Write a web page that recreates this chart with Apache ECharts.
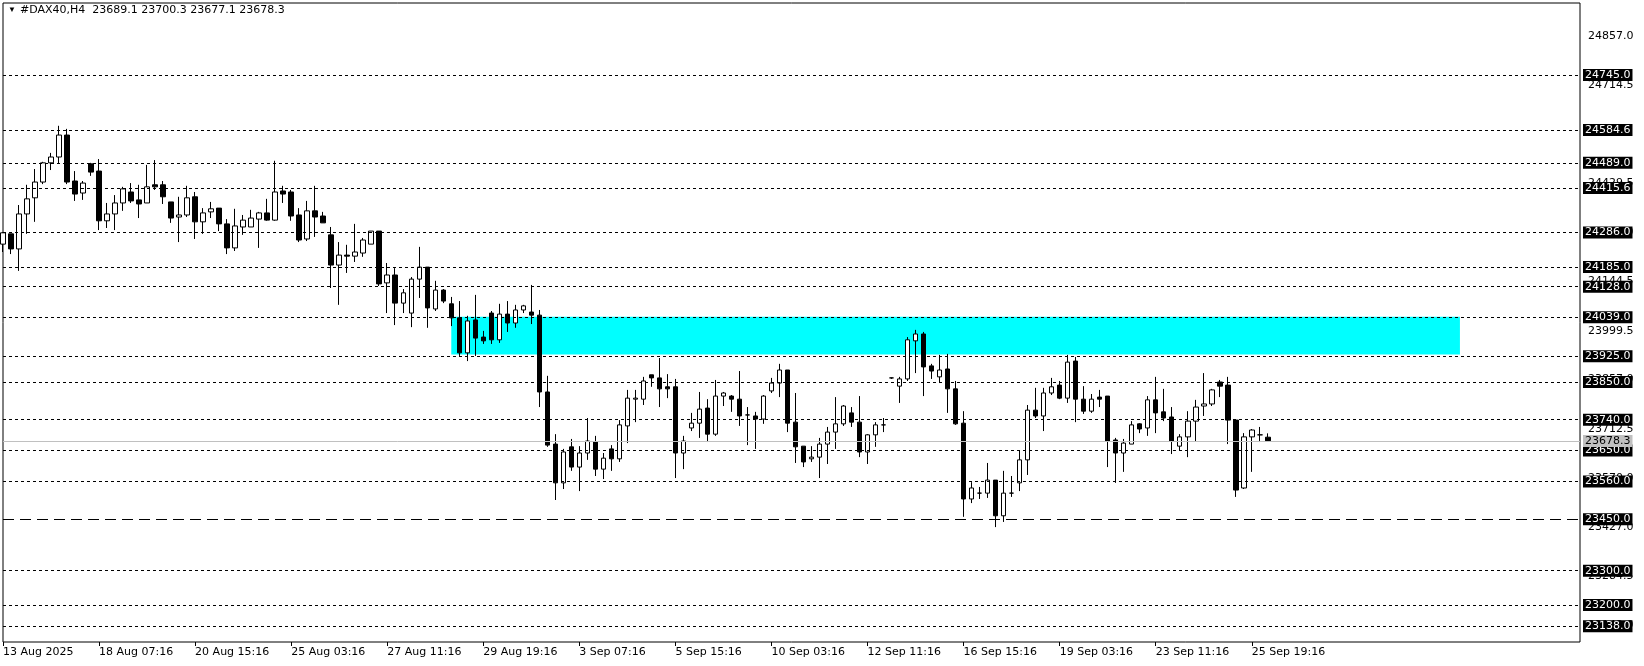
<!DOCTYPE html>
<html><head><meta charset="utf-8">
<script src="https://cdn.jsdelivr.net/npm/echarts@6/dist/echarts.min.js"></script>
<style>html,body{margin:0;padding:0;background:#fff}#c{width:1644px;height:666px}</style>
</head><body><div id="c"></div>
<script>
// candles: [open, close, low, high]
const candles = [
[24252,24285,24229,24287],[24282,24238,24223,24282],[24238,24340,24174,24366],[24340,24384,24282,24425],
[24387,24433,24317,24471],[24433,24489,24427,24492],[24489,24506,24468,24518],[24506,24570,24486,24597],
[24570,24433,24427,24588],[24436,24398,24378,24465],[24401,24430,24381,24436],[24486,24462,24451,24489],
[24465,24320,24293,24500],[24320,24340,24299,24372],[24340,24372,24293,24395],[24372,24413,24349,24419],
[24404,24378,24372,24430],[24381,24369,24328,24425],[24372,24419,24372,24483],[24425,24419,24410,24497],
[24425,24390,24369,24436],[24375,24328,24314,24375],[24331,24337,24258,24390],[24337,24387,24331,24422],
[24390,24317,24267,24404],[24317,24343,24282,24357],[24346,24355,24328,24375],[24357,24311,24290,24357],
[24311,24241,24223,24325],[24241,24305,24232,24355],[24302,24322,24279,24337],[24302,24328,24302,24352],
[24325,24343,24241,24346],[24343,24322,24320,24384],[24322,24404,24320,24495],[24407,24398,24372,24422],
[24404,24334,24320,24410],[24337,24264,24258,24357],[24267,24349,24261,24378],[24349,24331,24273,24422],
[24334,24314,24314,24346],[24279,24191,24124,24302],[24191,24220,24075,24258],[24220,24217,24168,24250],
[24217,24229,24200,24311],[24226,24264,24215,24270],[24252,24290,24252,24290],[24290,24136,24130,24290],
[24139,24162,24051,24197],[24162,24080,24016,24182],[24080,24110,24051,24121],[24051,24150,24010,24156],
[24150,24185,24095,24244],[24185,24066,24008,24185],[24063,24118,24057,24145],[24118,24086,24080,24121],
[24078,24037,24013,24098],[24037,23935,23926,24086],[23935,24028,23911,24043],[24031,23978,23926,24104],
[23981,23970,23961,23999],[24051,23973,23961,24057],[23973,24048,23964,24078],[24048,24022,23996,24086],
[24022,24060,24008,24075],[24060,24072,24051,24075],[24054,24045,24019,24133],[24045,23821,23777,24060],
[23821,23666,23661,23868],[23669,23556,23506,23698],[23556,23646,23538,23655],[23661,23602,23591,23684],
[23602,23643,23532,23663],[23643,23678,23623,23745],[23675,23596,23576,23693],[23596,23628,23567,23643],
[23655,23626,23591,23666],[23626,23725,23617,23739],[23722,23803,23672,23827],[23800,23803,23733,23827],
[23800,23853,23783,23865],[23871,23862,23836,23871],[23862,23830,23777,23920],[23836,23830,23803,23873],
[23836,23643,23570,23859],[23643,23678,23596,23693],[23716,23730,23707,23760],[23730,23771,23687,23821],
[23774,23698,23675,23800],[23698,23809,23693,23856],[23809,23818,23780,23821],[23809,23800,23763,23812],
[23800,23751,23722,23882],[23754,23754,23666,23777],[23751,23742,23655,23763],[23742,23809,23728,23812],
[23824,23847,23818,23862],[23847,23885,23806,23903],[23885,23730,23704,23885],[23733,23661,23614,23818],
[23663,23617,23602,23663],[23626,23631,23617,23663],[23631,23669,23570,23687],[23669,23704,23611,23719],
[23704,23728,23655,23806],[23728,23780,23722,23783],[23760,23733,23719,23777],[23733,23646,23631,23809],
[23646,23696,23611,23698],[23696,23725,23661,23733],[23725,23725,23704,23745],[23862,23862,23859,23863],
[23838,23859,23789,23865],[23859,23973,23853,23981],[23970,23990,23876,24002],[23990,23894,23809,23996],
[23897,23882,23859,23903],[23865,23885,23847,23929],[23888,23830,23760,23932],[23830,23728,23725,23853],
[23730,23509,23457,23765],[23509,23541,23497,23558],[23526,23526,23509,23544],[23526,23564,23512,23614],
[23564,23460,23427,23564],[23460,23526,23442,23591],[23526,23526,23515,23576],[23556,23623,23532,23649],
[23623,23768,23579,23783],[23768,23751,23745,23833],[23751,23818,23707,23833],[23818,23836,23812,23862],
[23841,23803,23800,23853],[23803,23908,23789,23929],[23911,23800,23733,23923],[23800,23765,23757,23838],
[23765,23800,23760,23815],[23806,23800,23777,23827],[23809,23678,23602,23809],[23681,23643,23556,23687],
[23643,23672,23588,23684],[23669,23725,23669,23736],[23728,23713,23701,23730],[23716,23798,23693,23809],
[23798,23760,23701,23865],[23763,23745,23736,23830],[23748,23678,23640,23777],[23663,23690,23649,23698],
[23690,23736,23631,23765],[23736,23777,23678,23798],[23780,23786,23751,23876],[23786,23827,23780,23830],
[23850,23838,23806,23856],[23841,23739,23669,23865],[23739,23535,23515,23742],[23541,23690,23538,23701],
[23690,23710,23588,23713],[23696,23696,23675,23719],[23689.1,23678.3,23677.1,23700.3]
];
const totalSlots = 198;
const tickIdx = [0,12,24,36,48,60,72,84,96,108,120,132,144,156];
const tickLabels = ['13 Aug 2025','18 Aug 07:16','20 Aug 15:16','25 Aug 03:16','27 Aug 11:16','29 Aug 19:16','3 Sep 07:16','5 Sep 15:16','10 Sep 03:16','12 Sep 11:16','16 Sep 15:16','19 Sep 03:16','23 Sep 11:16','25 Sep 19:16'];
const levels = [24745.0,24584.6,24489.0,24415.6,24286.0,24185.0,24128.0,24039.0,23925.0,23850.0,23740.0,23650.0,23560.0,23300.0,23200.0,23138.0];
const keyLevel = 23450.0;
const bidPrice = 23678.3;
const scaleTicks = [24857.0,24714.5,24429.5,24287.0,24144.5,23999.5,23857.0,23712.5,23570.0,23427.0,23284.5,23142.0];
const zone = {fromIdx:56, toIdx:182, top:24040, bottom:23930};
const title = '#DAX40,H4  23689.1 23700.3 23677.1 23678.3';

const cats = [];
for (let i=0;i<totalSlots;i++){ const k=tickIdx.indexOf(i); cats.push(k>=0?tickLabels[k]:''); }
const FONT = 'DejaVu Sans';
const lab = (bg,fg)=>({show:true,position:'end',distance:3,formatter:p=>p.value.toFixed(1),
  backgroundColor:bg,color:fg,fontFamily:FONT,fontSize:11,padding:[1,2,0,2]});
const mlData = [];
scaleTicks.forEach(v=>mlData.push({yAxis:v,lineStyle:{color:'rgba(0,0,0,0)',width:1},label:{show:true,position:'end',distance:8,formatter:v.toFixed(1),color:'#000',fontFamily:FONT,fontSize:11}}));
levels.forEach(v=>mlData.push({yAxis:v,lineStyle:{color:'#000',type:[3,3],width:1},label:lab('#000','#fff')}));
mlData.push({yAxis:keyLevel,lineStyle:{color:'#000',type:[11,6],width:1},label:lab('#000','#fff')});
mlData.push({yAxis:bidPrice,lineStyle:{color:'#c0c0c0',type:'solid',width:1},label:lab('#c0c0c0','#000')});

const chart = echarts.init(document.getElementById('c'),null,{renderer:'canvas'});
chart.setOption({
  animation:false,
  backgroundColor:'#fff',
  grid:{left:3,right:64,top:3,bottom:24,show:true,borderColor:'#000',borderWidth:1,backgroundColor:'transparent'},
  xAxis:{type:'category',data:cats,boundaryGap:false,
    axisLine:{show:false},
    axisTick:{show:true,interval:(i)=>tickIdx.includes(i),length:4,inside:false,lineStyle:{color:'#000'}},
    axisLabel:{interval:(i)=>tickIdx.includes(i),align:'left',color:'#000',fontFamily:FONT,fontSize:11,margin:5},
    splitLine:{show:false}},
  yAxis:{type:'value',position:'right',min:23092,max:24955,axisLine:{show:false},axisTick:{show:false},axisLabel:{show:false},splitLine:{show:false}},
  graphic:[{type:'text',left:8,top:6,style:{text:'\u25BC',fontSize:8,fill:'#000'}},
           {type:'text',left:20,top:5,style:{text:title,fontFamily:FONT,fontSize:11,fill:'#000'}}],
  series:[{
    type:'candlestick',data:candles.map(c=>c),barWidth:5,
    itemStyle:{color:'#fff',color0:'#000',borderColor:'#000',borderColor0:'#000',borderWidth:1},
    markArea:{silent:true,itemStyle:{color:'#00ffff'},data:[[{xAxis:zone.fromIdx,yAxis:zone.top},{xAxis:zone.toIdx,yAxis:zone.bottom}]],z:-1},
    markLine:{silent:true,symbol:'none',animation:false,data:mlData},
    z:3
  }]
});
</script></body></html>
